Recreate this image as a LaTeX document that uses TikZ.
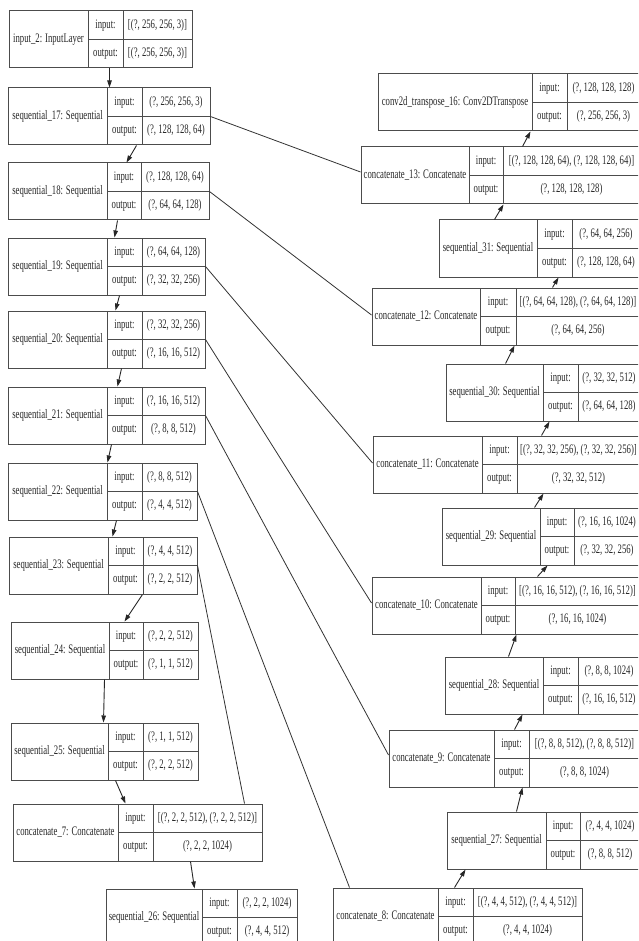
\documentclass[tikz,border=0pt]{standalone}
\usepackage{fontspec}
\setmainfont{Liberation Serif}
\newfontfamily\kerasfont[FakeStretch=0.67]{Liberation Serif}
\usetikzlibrary{arrows.meta}

% #1 name, #2 left, #3 top, #4 and #5 column rules, #6 right, #7 title, #8 input, #9 output
\newcommand{\modellayer}[9]{
  \pgfmathsetmacro{\ybot}{#3+57}
  \pgfmathsetmacro{\ymid}{#3+28.5}
  \node[frame, minimum width=#6-#2, minimum height=57] (#1) at ({(#2+#6)/2}, \ymid) {};
  \draw[cellrule] (#4,#3) -- (#4,\ybot) (#5,#3) -- (#5,\ybot) (#4,\ymid) -- (#6,\ymid);
  \node[celltext] (#1-name) at ({(#2+#4)/2}, \ymid) {#7};
  \node[celltext] (#1-inl) at ({(#4+#5)/2}, {#3+14.25}) {input:};
  \node[celltext] (#1-outl) at ({(#4+#5)/2}, {#3+42.75}) {output:};
  \node[celltext] (#1-inv) at ({(#5+#6)/2}, {#3+14.25}) {#8};
  \node[celltext] (#1-outv) at ({(#5+#6)/2}, {#3+42.75}) {#9};
}

\begin{document}
\begin{tikzpicture}[x=1pt, y=-1pt,
  frame/.style={draw=black!70, line width=1pt, inner sep=0pt, rectangle},
  cellrule/.style={draw=black!70, line width=1pt},
  celltext/.style={font=\kerasfont\fontsize{13}{13}\selectfont, text=black!85, inner sep=0pt},
  flow/.style={-{Triangle[length=7pt,width=4.5pt]}, line width=0.9pt, black!85},
  skip/.style={line width=0.8pt, black!80}]
  \useasboundingbox (0,0) rectangle (638,941);
  \clip (0,0) rectangle (638,941);

  % encoder, left column
  \modellayer{in2}{9}{11}{88}{123}{192}{input\_2: InputLayer}{[(?, 256, 256, 3)]}{[(?, 256, 256, 3)]}
  \modellayer{s17}{8}{88}{107}{142}{210}{sequential\_17: Sequential}{(?, 256, 256, 3)}{(?, 128, 128, 64)}
  \modellayer{s18}{8}{163}{107}{141}{209}{sequential\_18: Sequential}{(?, 128, 128, 64)}{(?, 64, 64, 128)}
  \modellayer{s19}{8}{238}{107}{142}{205}{sequential\_19: Sequential}{(?, 64, 64, 128)}{(?, 32, 32, 256)}
  \modellayer{s20}{8}{311}{107}{142}{205}{sequential\_20: Sequential}{(?, 32, 32, 256)}{(?, 16, 16, 512)}
  \modellayer{s21}{8}{387}{107}{142}{205}{sequential\_21: Sequential}{(?, 16, 16, 512)}{(?, 8, 8, 512)}
  \modellayer{s22}{8}{463}{107}{142}{197}{sequential\_22: Sequential}{(?, 8, 8, 512)}{(?, 4, 4, 512)}
  \modellayer{s23}{9}{537}{108}{143}{197}{sequential\_23: Sequential}{(?, 4, 4, 512)}{(?, 2, 2, 512)}
  \modellayer{s24}{11}{622}{109}{143}{198}{sequential\_24: Sequential}{(?, 2, 2, 512)}{(?, 1, 1, 512)}
  \modellayer{s25}{11}{723}{108}{143}{198}{sequential\_25: Sequential}{(?, 1, 1, 512)}{(?, 2, 2, 512)}
  \modellayer{c7}{13}{804}{118}{153}{262}{concatenate\_7: Concatenate}{[(?, 2, 2, 512), (?, 2, 2, 512)]}{(?, 2, 2, 1024)}
  \modellayer{s26}{106}{889}{202}{237}{297}{sequential\_26: Sequential}{(?, 2, 2, 1024)}{(?, 4, 4, 512)}

  % decoder, right column
  \modellayer{ct16}{378}{74}{532}{567}{640}{conv2d\_transpose\_16: Conv2DTranspose}{(?, 128, 128, 128)}{(?, 256, 256, 3)}
  \modellayer{c13}{361}{147}{469}{503}{640}{concatenate\_13: Concatenate}{[(?, 128, 128, 64), (?, 128, 128, 64)]}{(?, 128, 128, 128)}
  \modellayer{s31}{439}{220}{537}{572}{640}{sequential\_31: Sequential}{(?, 64, 64, 256)}{(?, 128, 128, 64)}
  \modellayer{c12}{372}{288}{480}{516}{640}{concatenate\_12: Concatenate}{[(?, 64, 64, 128), (?, 64, 64, 128)]}{(?, 64, 64, 256)}
  \modellayer{s30}{446}{364}{543}{578}{640}{sequential\_30: Sequential}{(?, 32, 32, 512)}{(?, 64, 64, 128)}
  \modellayer{c11}{373}{436}{482}{517}{640}{concatenate\_11: Concatenate}{[(?, 32, 32, 256), (?, 32, 32, 256)]}{(?, 32, 32, 512)}
  \modellayer{s29}{442}{508}{540}{574}{640}{sequential\_29: Sequential}{(?, 16, 16, 1024)}{(?, 32, 32, 256)}
  \modellayer{c10}{372}{577}{481}{515}{640}{concatenate\_10: Concatenate}{[(?, 16, 16, 512), (?, 16, 16, 512)]}{(?, 16, 16, 1024)}
  \modellayer{s28}{445}{657}{543}{578}{640}{sequential\_28: Sequential}{(?, 8, 8, 1024)}{(?, 16, 16, 512)}
  \modellayer{c9}{389}{730}{494}{529}{640}{concatenate\_9: Concatenate}{[(?, 8, 8, 512), (?, 8, 8, 512)]}{(?, 8, 8, 1024)}
  \modellayer{s27}{447}{812}{546}{580}{640}{sequential\_27: Sequential}{(?, 4, 4, 1024)}{(?, 8, 8, 512)}
  \modellayer{c8}{333}{888}{438}{473}{582}{concatenate\_8: Concatenate}{[(?, 4, 4, 512), (?, 4, 4, 512)]}{(?, 4, 4, 1024)}

  \foreach \a/\b/\sa/\sb in {in2/s17/101/102, s17/s18/129/119, s18/s19/110/107,
      s19/s20/112/108, s20/s21/114/110, s21/s22/104/100, s22/s23/109/104,
      s23/s24/134/114, s24/s25/94/93, s25/c7/105/113, c7/s26/178/89}
    \draw[flow] ([xshift=\sa]\a.south west) -- ([xshift=\sb]\b.north west);

  % the decoder runs upward
  \foreach \a/\b/\sa/\sb in {c13/ct16/162/153, s31/c13/56/143, c12/s31/181/120,
      s30/c12/60/143, c11/s30/169/104, s29/c11/93/171, c10/s29/166/106,
      s28/c10/64/145, c9/s28/126/78, s27/c9/70/134, c8/s27/122/19}
    \draw[flow] ([xshift=\sa]\a.north west) -- ([xshift=\sb]\b.south west);

  \foreach \a/\b/\s in {s17/c13/3.5, s18/c12/1.5, s19/c11/1.5, s20/c10/2.5, s21/c9/3.5}
    \draw[skip] (\a.east) -- ([yshift=\s]\b.west);
  \draw[skip] (s22.east) -- ([xshift=17]c8.north west);
  \draw[skip] (s23.east) -- ([xshift=232]c7.north west);
\end{tikzpicture}
\end{document}
